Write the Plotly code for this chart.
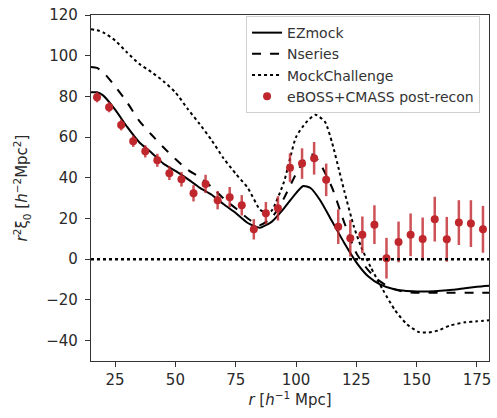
import plotly.graph_objects as go

# Data points (eBOSS+CMASS post-recon)
r_data = [17.5, 22.5, 27.5, 32.5, 37.5, 42.5, 47.5, 52.5, 57.5, 62.5, 67.5, 72.5, 77.5,
          82.5, 87.5, 92.5, 97.5, 102.5, 107.5, 112.5, 117.5, 122.5, 127.5, 132.5,
          137.5, 142.5, 147.5, 152.5, 157.5, 162.5, 167.5, 172.5, 177.5]
xi_data = [79.6, 74.7, 66, 58, 53, 48.6, 42.3, 39.3, 32.4, 37, 29, 30.5, 26.5,
           14.7, 22.6, 25, 45, 47, 49.6, 39, 16, 10.3, 12, 17,
           0.5, 8.5, 12, 10, 19.7, 9.8, 18, 17.5, 14.7]
err_data = [2.5, 2.5, 2.7, 2.8, 3, 3.2, 3.4, 3.6, 4, 4.5, 4.5, 5, 5,
            5, 5.5, 6, 7, 7.5, 8, 8, 8.5, 9, 9, 9.5,
            10, 10, 10.5, 10.5, 11, 11, 11, 11.5, 11.5]

# EZmock
r_ez = [15, 17.5, 20, 25, 30, 35, 40, 45, 50, 55, 60, 65, 70, 75, 80, 85, 90, 95, 100,
        103, 106, 110, 115, 120, 125, 130, 135, 140, 145, 150, 155, 160, 165, 170, 175, 180]
xi_ez = [82, 82, 80.5, 73.5, 65, 57.5, 52.5, 47, 43.4, 39.5, 35.2, 31.7, 27, 22.7, 17.8,
         15.5, 18.5, 25, 32.5, 36, 35, 29, 18.5, 8, -1.5, -8.5, -12.5, -14.5, -15.5,
         -15.8, -15.8, -15.5, -15, -14.2, -13.5, -13]

# Nseries
r_ns = [15, 17.5, 20, 25, 30, 35, 40, 45, 50, 55, 60, 65, 70, 75, 80, 85, 90, 95, 100,
        104, 107, 110, 115, 120, 125, 130, 135, 140, 145, 150, 155, 160, 165, 170, 175, 180]
xi_ns = [94.5, 94, 92, 85, 77, 68, 61.3, 55, 49.2, 44, 40.3, 35.5, 29.8, 25, 20, 16.8,
         20.5, 30, 42, 49.5, 51.5, 47, 35, 18, 3, -5.5, -11, -14.5, -16, -16.5, -16.5,
         -16.5, -16.5, -16.5, -16.5, -16.5]

# MockChallenge
r_mc = [15, 17.5, 20, 25, 30, 35, 40, 45, 50, 55, 60, 65, 70, 75, 80, 85, 88, 90, 95,
        100, 104, 108, 112, 115, 118, 120, 124, 127, 131, 136, 141, 146, 151, 155, 159,
        164, 170, 175, 180]
xi_mc = [113, 112.5, 111.5, 107.5, 101.5, 96, 92, 87.5, 82, 74, 66.5, 58.5, 49.5, 42, 35,
         24.5, 22.5, 24, 38, 60, 67, 71, 67.5, 57, 43, 33.5, 16, 6, -4, -15, -25, -32,
         -35.8, -36, -35, -32.5, -31, -30.5, -30]

x_ticks = [25, 50, 75, 100, 125, 150, 175]
y_ticks = [-40, -20, 0, 20, 40, 60, 80, 100, 120]

RED = "#c0272d"
FONT = "DejaVu Sans"

fig = go.Figure()
fig.add_trace(go.Scatter(x=r_ez, y=xi_ez, mode="lines", name="EZmock",
                         line=dict(color="black", width=2, shape="spline", smoothing=0.6)))
fig.add_trace(go.Scatter(x=r_ns, y=xi_ns, mode="lines", name="Nseries",
                         line=dict(color="black", width=2, dash="dash", shape="spline", smoothing=0.6)))
fig.add_trace(go.Scatter(x=r_mc, y=xi_mc, mode="lines", name="MockChallenge",
                         line=dict(color="black", width=2, dash="dot", shape="spline", smoothing=0.6)))
fig.add_trace(go.Scatter(x=r_data, y=xi_data, mode="markers", name="eBOSS+CMASS post-recon",
                         marker=dict(color=RED, size=8),
                         error_y=dict(type="data", array=err_data, color="rgba(192,39,45,0.8)",
                                      thickness=2.5, width=0)))

fig.add_shape(type="line", xref="x domain", yref="y", x0=0, x1=1, y0=0, y1=0,
              line=dict(color="black", width=2.5, dash="dot"))

fig.update_layout(
    width=497, height=418,
    margin=dict(l=91, r=6, t=15, b=57),
    paper_bgcolor="white", plot_bgcolor="white",
    font=dict(family=FONT, size=15, color="#2a2a2a"),
    showlegend=True,
    legend=dict(x=0.9775, y=0.997, xanchor="right", yanchor="top",
                bgcolor="rgba(255,255,255,0.9)", bordercolor="#d0d0d0", borderwidth=1,
                font=dict(family=FONT, size=14, color="#333333"),
                tracegroupgap=0),
)
fig.update_xaxes(range=[15, 180], tickvals=x_ticks, ticks="outside", ticklen=5,
                 tickwidth=1.2, tickcolor="#333", showgrid=False, zeroline=False,
                 showline=True, linecolor="#333", linewidth=1.2, mirror=True,
                 tickfont=dict(size=15),
                 title=dict(text="<i>r</i> [<i>h</i><sup>−1</sup> Mpc]", standoff=6,
                            font=dict(size=15)))
fig.update_yaxes(range=[-50, 120], tickvals=y_ticks, ticktext=[str(v).replace("-", "−") for v in y_ticks],
                 ticks="outside", ticklen=5, ticklabelstandoff=4,
                 tickwidth=1.2, tickcolor="#333", showgrid=False, zeroline=False,
                 showline=True, linecolor="#333", linewidth=1.2, mirror=True,
                 tickfont=dict(size=15),
                 title=dict(text="<i>r</i><sup>2</sup>ξ<sub>0</sub> [<i>h</i><sup>−2</sup>Mpc<sup>2</sup>]",
                            standoff=14, font=dict(size=15)))

fig.write_html("out.html", config={"displayModeBar": False},
               post_script="document.body.style.margin='0';document.body.style.padding='0';")
